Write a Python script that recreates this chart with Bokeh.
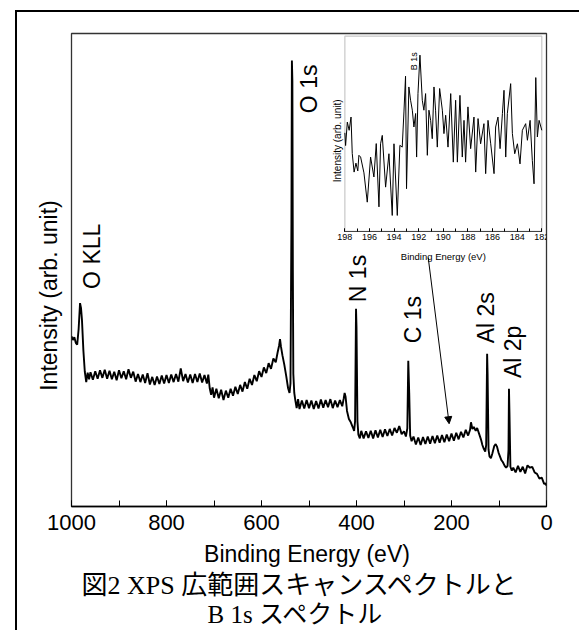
from math import pi
from bokeh.plotting import figure
from bokeh.models import (Range1d, Label, Arrow, NormalHead, SingleIntervalTicker,
                          FixedTicker, BoxAnnotation, LinearAxis)
from bokeh.layouts import column
from bokeh.embed import file_html
from bokeh.resources import INLINE

# ---------------- data: XPS survey spectrum ----------------
survey_be = [
    1000, 997, 994, 991, 988, 985, 982, 980, 978, 975,
    972, 969, 966, 963, 960, 955, 950, 945, 940, 935,
    930, 925, 920, 915, 910, 905, 900, 895, 890, 885,
    880, 875, 870, 865, 860, 855, 850, 845, 840, 835,
    830, 825, 820, 815, 810, 805, 800, 795, 790, 785,
    780, 775, 770, 765, 760, 755, 750, 745, 740, 735,
    730, 725, 720, 715, 712, 709, 706, 703, 700, 695,
    690, 685, 680, 675, 670, 665, 660, 655, 650, 645,
    640, 635, 630, 625, 620, 615, 610, 605, 600, 595,
    590, 585, 580, 575, 570, 566, 563, 561, 559, 556,
    552, 548, 544, 541, 539, 537, 536, 535, 534, 533,
    531, 529, 526, 523, 520, 515, 510, 505, 500, 495,
    490, 485, 480, 475, 470, 465, 460, 455, 450, 445,
    440, 435, 430, 427, 425, 423, 420, 416, 412, 408,
    405, 403, 401, 400, 398, 396, 393, 390, 385, 380,
    375, 370, 365, 360, 355, 350, 345, 340, 335, 330,
    325, 320, 315, 310, 305, 300, 296, 293, 291, 289,
    287, 284, 280, 275, 270, 265, 260, 255, 250, 245,
    240, 235, 230, 225, 220, 215, 210, 205, 200, 195,
    190, 185, 180, 175, 170, 165, 161, 159, 156, 153,
    149, 146, 142, 138, 135, 132, 129, 127, 125, 124,
    122, 120, 117, 114, 110, 107, 104, 101, 98, 95,
    92, 88, 85, 82, 80, 79, 78, 76, 73, 70,
    65, 60, 55, 50, 45, 40, 35, 30, 25, 20,
    15, 10, 5, 2, 0,
]
survey_intensity = [
    36.0, 35.2, 35.8, 34.6, 34.2, 37.5, 43.0, 42.0, 39.5, 33.0,
    28.5, 26.3, 28.3, 26.9, 28.4, 26.8, 28.6, 27.0, 28.8, 27.2,
    28.9, 27.0, 28.7, 26.9, 28.5, 26.7, 28.8, 27.1, 28.6, 26.9,
    29.0, 27.2, 28.5, 26.4, 28.0, 26.3, 27.9, 26.1, 28.2, 25.8,
    27.4, 25.7, 27.5, 25.9, 27.7, 26.0, 27.8, 26.1, 27.9, 26.3,
    28.0, 26.4, 29.2, 26.5, 28.0, 26.2, 27.9, 26.1, 28.0, 26.3,
    28.1, 26.2, 27.8, 26.0, 27.9, 25.0, 23.6, 25.2, 23.0, 24.9,
    22.9, 24.7, 22.5, 24.5, 23.0, 24.9, 23.4, 25.3, 23.8, 25.7,
    24.3, 26.3, 24.9, 27.0, 25.7, 27.8, 26.5, 28.6, 27.4, 29.4,
    28.2, 30.3, 29.1, 31.3, 30.5, 32.6, 34.0, 35.4, 33.8, 32.0,
    30.0, 27.6, 25.0, 24.0, 26.0, 60.0, 94.3, 90.0, 50.0, 28.0,
    24.0, 22.6, 20.8, 22.7, 20.6, 22.4, 20.7, 22.5, 20.8, 22.4,
    20.6, 22.3, 20.7, 22.6, 20.9, 22.5, 21.0, 22.7, 20.8, 22.4,
    21.0, 22.5, 21.2, 22.8, 24.0, 23.2, 20.2, 18.5, 17.8, 16.8,
    16.0, 18.0, 41.8, 38.0, 18.0, 15.2, 14.4, 16.0, 14.4, 15.9,
    14.5, 16.0, 14.4, 16.1, 14.6, 16.2, 14.7, 16.3, 14.9, 16.4,
    15.0, 16.6, 15.6, 17.0, 15.3, 15.9, 14.8, 16.5, 30.8, 24.0,
    15.0, 13.8, 14.8, 13.1, 14.6, 13.0, 14.7, 13.2, 14.8, 13.3,
    14.9, 13.4, 15.0, 13.5, 15.1, 13.6, 15.2, 13.8, 15.4, 13.9,
    15.6, 14.2, 15.8, 14.6, 16.2, 15.0, 16.2, 17.8, 16.4, 16.8,
    16.0, 16.6, 15.4, 14.2, 13.0, 12.2, 11.6, 13.0, 32.3, 28.0,
    12.0, 10.6, 10.2, 11.2, 12.8, 13.2, 12.6, 11.4, 10.6, 9.8,
    9.4, 8.6, 8.2, 8.6, 12.0, 24.9, 20.0, 8.4, 7.6, 8.2,
    7.2, 8.6, 7.3, 8.4, 7.0, 8.7, 8.2, 8.4, 7.2, 6.9,
    5.9, 6.1, 4.8, 4.9, 4.4,
]

# ---------------- data: B 1s narrow scan (inset) ----------------
b1s_be = [
    198.0, 197.94, 197.8, 197.65, 197.5, 197.4, 197.25, 197.1, 196.95, 196.86,
    196.72, 196.45, 196.18, 195.91, 195.64, 195.45, 195.23, 195.10, 194.96, 194.69,
    194.42, 194.15, 194.01, 193.74, 193.53, 193.34, 193.20, 193.07, 192.99, 192.80,
    192.66, 192.52, 192.39, 192.25, 192.17, 192.06, 191.90, 191.71, 191.58, 191.44,
    191.30, 191.17, 191.03, 190.90, 190.76, 190.63, 190.49, 190.30, 190.08, 189.95,
    189.81, 189.62, 189.40, 189.19, 189.00, 188.86, 188.65, 188.46, 188.32, 188.19,
    188.00, 187.78, 187.51, 187.37, 187.18, 186.97, 186.70, 186.56, 186.37, 186.15,
    185.88, 185.75, 185.56, 185.39, 185.20, 185.07, 184.93, 184.80, 184.53, 184.39,
    184.20, 183.98, 183.77, 183.58, 183.31, 183.17, 182.95, 182.77, 182.63, 182.49,
    182.36, 182.22, 182.00,
]
b1s_intensity = [
    50.5, 44.0, 56.0, 51.8, 58.6, 40.0, 30.4, 35.0, 31.0, 39.0,
    38.1, 30.0, 15.0, 38.1, 27.9, 45.0, 12.6, 44.9, 49.2, 22.7,
    39.8, 8.2, 44.9, 8.2, 44.1, 43.2, 61.2, 79.5, 21.9, 74.0,
    67.2, 62.1, 53.5, 60.4, 38.1, 70.6, 90.3, 67.2, 62.1, 70.6,
    39.0, 62.1, 56.9, 47.5, 74.0, 62.1, 43.2, 73.2, 62.1, 50.1,
    59.5, 43.2, 70.6, 35.5, 67.2, 35.5, 69.7, 38.1, 56.9, 35.5,
    63.8, 42.4, 58.6, 30.4, 57.8, 44.9, 55.2, 29.6, 56.9, 44.9,
    29.6, 53.5, 58.6, 42.4, 60.4, 72.3, 38.1, 60.4, 75.7, 50.1,
    39.8, 44.9, 34.6, 51.8, 55.2, 46.7, 56.9, 36.4, 24.4, 78.8,
    48.4, 56.9, 51.8,
]

peak_names = ["O KLL", "O 1s", "N 1s", "C 1s", "Al 2s", "Al 2p"]
x_title = "Binding Energy (eV)"
caption_lines = ["図2 XPS  広範囲スキャンスペクトルと", "B 1s スペクトル"]

SANS = "Liberation Sans"
SERIF = "Liberation Serif, Noto Sans CJK JP"
NBSP = "\u00a0"

FRAME_L, FRAME_R = 71, 546   # main frame, in page pixels

# ---------------- main survey figure ----------------
p = figure(width=579, height=540, x_range=Range1d(1000, 0), y_range=Range1d(0, 100),
           output_backend="svg", toolbar_location=None,
           min_border_left=FRAME_L, min_border_right=579 - FRAME_R,
           min_border_top=33, min_border_bottom=34,
           border_fill_alpha=0)
p.line(survey_be, survey_intensity, line_color="black", line_width=1.9)

p.xgrid.visible = False
p.ygrid.visible = False
p.outline_line_color = "#333333"
p.outline_line_width = 1.3

xa = p.xaxis[0]
xa.ticker = SingleIntervalTicker(interval=200, num_minor_ticks=2)
xa.major_tick_in = 6
xa.major_tick_out = 0
xa.minor_tick_in = 6
xa.minor_tick_out = 0
xa.axis_line_color = "black"
xa.axis_line_width = 1.3
xa.major_label_text_font = SANS
xa.major_label_text_font_size = "22px"
xa.major_label_text_color = "black"
xa.major_label_standoff = 8

ya = p.yaxis[0]
ya.ticker = FixedTicker(ticks=[])
ya.axis_line_color = None
ya.major_tick_in = 0
ya.major_tick_out = 0
ya.minor_tick_in = 0
ya.minor_tick_out = 0
# trailing no-break spaces push the visible title a little below the frame centre, as in the original
ya.axis_label = "Intensity (arb. unit)" + NBSP * 8
ya.axis_label_text_font = SANS
ya.axis_label_text_font_size = "23px"
ya.axis_label_text_font_style = "normal"
ya.axis_label_text_color = "black"
ya.axis_label_standoff = 10

# peak labels
peak_label_pos = [(956.4, 52.9), (499.6, 88.3), (396.4, 48.2), (280.6, 39.5), (127, 39.9), (70, 32.7)]
for name, (lx, ly) in zip(peak_names, peak_label_pos):
    p.add_layout(Label(x=lx, y=ly, text=name, angle=pi / 2, text_align="center",
                       text_baseline="middle", text_font=SANS,
                       text_font_size="23px", text_color="black"))

# arrow from inset to the B 1s region
p.add_layout(Arrow(end=NormalHead(size=7, fill_color="black", line_color="black"),
                   x_start=249, y_start=52.6, x_end=205, y_end=17.5,
                   line_color="black", line_width=1))

# ---------------- inset (B 1s) drawn on extra ranges of the main plot ----------------
# inset box as fractions of the main frame: left, right, bottom, top
IL, IR, IB, IT = 0.5755, 0.9901, 0.5815, 0.9943
ix0, ix1 = 198.0, 182.0
iy0, iy1 = 0.0, 100.0
xs = (ix1 - ix0) / (IR - IL)
ys = (iy1 - iy0) / (IT - IB)
p.extra_x_ranges = {"ix": Range1d(ix0 - IL * xs, ix0 + (1 - IL) * xs)}
p.extra_y_ranges = {"iy": Range1d(iy0 - IB * ys, iy0 + (1 - IB) * ys)}

p.add_layout(BoxAnnotation(left=ix0, right=ix1, bottom=iy0, top=iy1,
                           x_range_name="ix", y_range_name="iy",
                           fill_color="white", fill_alpha=1.0,
                           line_color="#444444", line_width=1.2, level="underlay"))
p.line(b1s_be, b1s_intensity, line_color="black", line_width=1,
       x_range_name="ix", y_range_name="iy")

ia = LinearAxis(x_range_name="ix", y_range_name="iy", fixed_location=iy0,
                bounds=(ix1, ix0))
ia.ticker = SingleIntervalTicker(interval=2, num_minor_ticks=2)
ia.major_tick_in = 3
ia.major_tick_out = 0
ia.minor_tick_in = 3
ia.minor_tick_out = 0
ia.axis_line_color = "#444444"
ia.major_label_text_font = SANS
ia.major_label_text_font_size = "9px"
ia.major_label_text_color = "black"
ia.major_label_standoff = 3
p.add_layout(ia, "below")

inset_texts = [("Binding Energy (eV)", 190.0, -12.7, 0, "9.5px"),
               ("Intensity (arb. unit)", 198.63, 46.4, pi / 2, "10px"),
               ("B 1s", 192.4, 87.2, pi / 2, "9px")]
for t, tx, ty, ang, fs in inset_texts:
    p.add_layout(Label(x=tx, y=ty, text=t, angle=ang, x_range_name="ix", y_range_name="iy",
                       text_align="center", text_baseline="middle",
                       text_font=SANS, text_font_size=fs, text_color="black"))

# ---------------- x-axis title and caption strip ----------------
# the column aligns this strip's frame with the main frame, so its x range is given in page pixels
cap = figure(width=579, height=90, x_range=Range1d(FRAME_L, FRAME_R), y_range=Range1d(90, 0),
             output_backend="svg", toolbar_location=None,
             min_border_left=FRAME_L, min_border_right=579 - FRAME_R,
             min_border_top=0, min_border_bottom=0,
             x_axis_location=None, y_axis_location=None,
             border_fill_alpha=0, background_fill_alpha=0, outline_line_color=None)
cap.grid.visible = False
cap.add_layout(Label(x=306.5, y=13.5, text=x_title, text_align="center",
                     text_baseline="middle", text_font=SANS,
                     text_font_size="23px", text_color="black"))
cap.add_layout(Label(x=81, y=45, text=caption_lines[0], text_align="left",
                     text_baseline="middle", text_font=SERIF,
                     text_font_size="26px", text_color="black"))
cap.add_layout(Label(x=207, y=73.5, text=caption_lines[1], text_align="left",
                     text_baseline="middle", text_font=SERIF,
                     text_font_size="25px", text_color="black"))

frame_css = ("linear-gradient(#000, #000) 15px 10px / 2px 700px no-repeat, "
             "linear-gradient(#000, #000) 15px 10px / 600px 2px no-repeat, #ffffff")
layout = column(p, cap, styles={"background": frame_css})
open("out.html", "w").write(file_html(layout, INLINE))
